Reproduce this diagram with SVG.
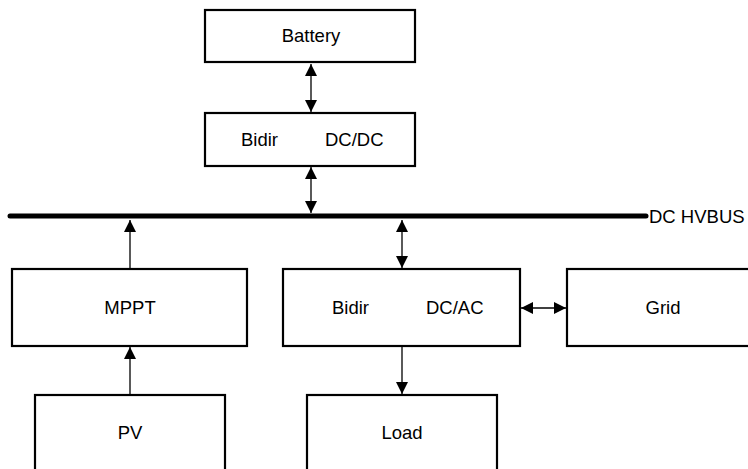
<svg xmlns="http://www.w3.org/2000/svg" width="748" height="469" viewBox="0 0 748 469">
  <style>
    .box { fill: #ffffff; stroke: #000000; stroke-width: 2.2; }
    .lbl { font-family: "Liberation Sans", Arial, sans-serif; font-size: 18.5px; fill: #000000; }
    .mid { text-anchor: middle; }
    .wire { stroke: #000000; stroke-width: 1.3; fill: none; }
    .bus { stroke: #000000; stroke-width: 5; stroke-linecap: round; fill: none; }
  </style>
  <defs>
    <marker id="head" viewBox="0 0 12 12" markerWidth="12" markerHeight="12" markerUnits="userSpaceOnUse" refX="12" refY="6" orient="auto-start-reverse">
      <path d="M0,0 L12,6 L0,12 Z" fill="#000000"/>
    </marker>
  </defs>

  <g id="battery">
    <rect class="box" x="205" y="10" width="210" height="52"/>
    <text class="lbl mid" x="311" y="42">Battery</text>
  </g>
  <g id="bidir-dcdc">
    <rect class="box" x="205" y="113" width="210" height="53"/>
    <text class="lbl" x="241" y="146">Bidir</text>
    <text class="lbl" x="325" y="146">DC/DC</text>
  </g>
  <g id="dc-hvbus">
    <line class="bus" x1="10" y1="216" x2="646" y2="216"/>
    <text class="lbl" x="649" y="223">DC HVBUS</text>
  </g>
  <g id="mppt">
    <rect class="box" x="12" y="269" width="235" height="77"/>
    <text class="lbl mid" x="130" y="314">MPPT</text>
  </g>
  <g id="bidir-dcac">
    <rect class="box" x="283" y="269" width="237" height="77"/>
    <text class="lbl" x="332" y="314">Bidir</text>
    <text class="lbl" x="426" y="314">DC/AC</text>
  </g>
  <g id="grid">
    <rect class="box" x="567" y="269" width="192" height="77"/>
    <text class="lbl mid" x="663" y="314">Grid</text>
  </g>
  <g id="pv">
    <rect class="box" x="35" y="395" width="190" height="80"/>
    <text class="lbl mid" x="130" y="439">PV</text>
  </g>
  <g id="load">
    <rect class="box" x="307" y="395" width="190" height="80"/>
    <text class="lbl mid" x="402" y="439">Load</text>
  </g>

  <g id="connectors">
    <line class="wire" x1="311" y1="64" x2="311" y2="112" marker-start="url(#head)" marker-end="url(#head)"/>
    <line class="wire" x1="311" y1="167" x2="311" y2="213" marker-start="url(#head)" marker-end="url(#head)"/>
    <line class="wire" x1="130" y1="268" x2="130" y2="220" marker-end="url(#head)"/>
    <line class="wire" x1="130" y1="394" x2="130" y2="347" marker-end="url(#head)"/>
    <line class="wire" x1="402" y1="220" x2="402" y2="268" marker-start="url(#head)" marker-end="url(#head)"/>
    <line class="wire" x1="521" y1="308" x2="566" y2="308" marker-start="url(#head)" marker-end="url(#head)"/>
    <line class="wire" x1="402" y1="347" x2="402" y2="394" marker-end="url(#head)"/>
  </g>
</svg>
